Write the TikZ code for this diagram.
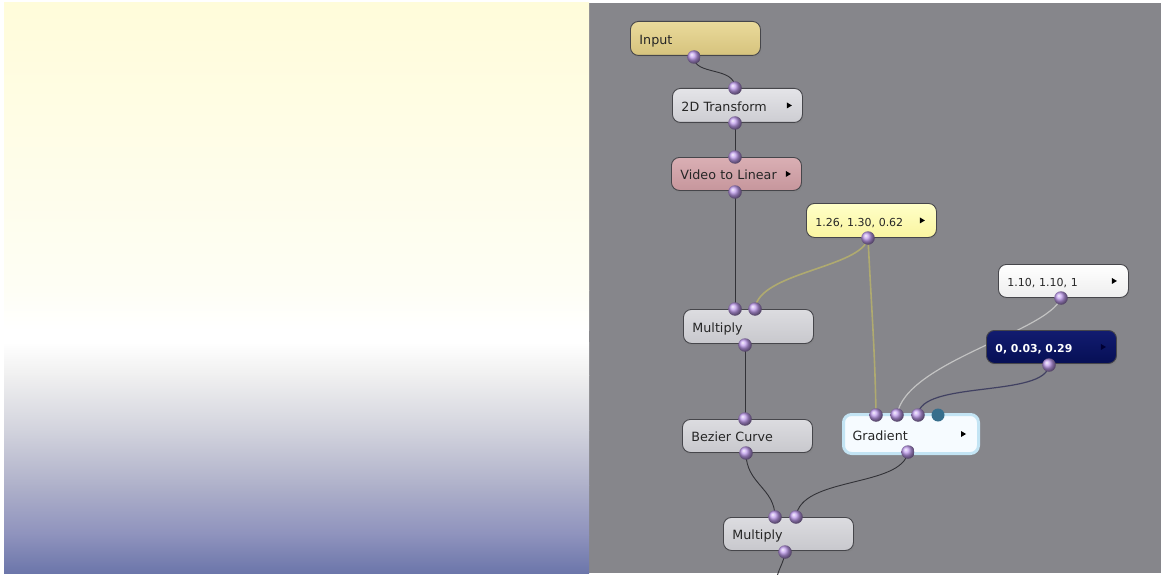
\documentclass[tikz,border=0pt]{standalone}
\usepackage{fontspec}
\newfontfamily\uifont{DejaVu Sans}
\usetikzlibrary{shadows,calc}
\pgfdeclarelayer{back}
\pgfdeclarelayer{wires}
\pgfsetlayers{back,wires,main}
\definecolor{panelgrey}{RGB}{134,134,139}
\definecolor{wire}{RGB}{50,50,55}
\definecolor{olive}{RGB}{175,170,112}
\definecolor{lightwire}{RGB}{195,195,195}
\definecolor{navywire}{RGB}{65,65,98}
\definecolor{boxborder}{RGB}{70,70,75}
\definecolor{portcol}{RGB}{190,155,235}
\definecolor{teal}{RGB}{55,110,140}
\definecolor{glow}{RGB}{195,228,244}
\tikzset{
  box/.style={draw=boxborder, line width=0.9pt, rounded corners=8pt, anchor=north west,
    minimum width=130pt, minimum height=34pt, text width=112pt, align=left,
    inner xsep=9pt, text height=13pt, text depth=1pt,
    font=\uifont\fontsize{12.7}{14}\selectfont, text=black!85,
    drop shadow={opacity=0.35, shadow xshift=1pt, shadow yshift=-2pt}},
  numbox/.style={box, font=\uifont\fontsize{11}{13}\selectfont},
  port/.style={circle, minimum size=13.5pt, inner sep=0pt, shading=ball, ball color=portcol},
  tealport/.style={circle, minimum size=13pt, inner sep=0pt, fill=teal},
  conn/.style={draw=wire, line width=0.9pt},
}
\newcommand{\tri}[2]{\fill[black] ($(#1.east)+(#2,-3)$) -- ++(0,6) -- ++(5,-3) -- cycle;}
\begin{document}
\begin{tikzpicture}[x=1pt,y=-1pt]
\useasboundingbox (0,0) rectangle (1164,575);
\begin{pgfonlayer}{back}
\fill[white] (0,0) rectangle (1164,575);
\fill[panelgrey] (589,3) rectangle (1161,573);
\shade[top color={rgb,255:red,255;green,252;blue,218}, bottom color={rgb,255:red,254;green,254;blue,245}] (4,3) rectangle (589,290.5);
\shade[top color={rgb,255:red,254;green,254;blue,245}, bottom color=white] (4,290) rectangle (589,330.5);
\fill[white] (4,330) rectangle (589,342.5);
\shade[top color=white, bottom color={rgb,255:red,240;green,240;blue,240}] (4,342) rectangle (589,375.5);
\shade[top color={rgb,255:red,240;green,240;blue,240}, bottom color={rgb,255:red,210;green,211;blue,221}] (4,375) rectangle (589,430.5);
\shade[top color={rgb,255:red,210;green,211;blue,221}, bottom color={rgb,255:red,175;green,177;blue,202}] (4,430) rectangle (589,485.5);
\shade[top color={rgb,255:red,175;green,177;blue,202}, bottom color={rgb,255:red,142;green,146;blue,189}] (4,485) rectangle (589,535.5);
\shade[top color={rgb,255:red,142;green,146;blue,189}, bottom color={rgb,255:red,108;green,118;blue,170}] (4,535) rectangle (589,573);
\end{pgfonlayer}

% nodes
\node[box, top color={rgb,255:red,234;green,218;blue,155}, bottom color={rgb,255:red,214;green,195;blue,125}] (input) at (630,21) {Input};
\node[box, top color={rgb,255:red,228;green,228;blue,232}, bottom color={rgb,255:red,205;green,205;blue,210}] (t2d) at (672,88) {2D Transform};
\node[box, minimum height=33pt, top color={rgb,255:red,218;green,175;blue,180}, bottom color={rgb,255:red,198;green,150;blue,156}] (vtl) at (671,157) {Video to Linear};
\node[numbox, minimum width=129pt, top color={rgb,255:red,255;green,255;blue,200}, bottom color={rgb,255:red,250;green,245;blue,160}] (c126) at (806,203) {1.26, 1.30, 0.62};
\node[box, minimum width=128pt, top color={rgb,255:red,220;green,220;blue,224}, bottom color={rgb,255:red,200;green,200;blue,205}] (mul1) at (683,309) {Multiply};
\node[numbox, minimum height=33pt, top color=white, bottom color={rgb,255:red,238;green,238;blue,238}] (c110) at (998,264) {1.10, 1.10, 1};
\node[numbox, minimum height=33pt, text=white, font=\uifont\bfseries\fontsize{10.9}{12}\selectfont, top color={rgb,255:red,18;green,28;blue,112}, bottom color={rgb,255:red,6;green,15;blue,85}] (c003) at (986,330) {0, 0.03, 0.29};
\node[box, draw=glow, line width=3pt, minimum width=135pt, minimum height=39pt, text width=117pt, fill={rgb,255:red,246;green,251;blue,255}] (grad) at (842,413) {Gradient};
\node[box, minimum height=33pt, top color={rgb,255:red,220;green,220;blue,224}, bottom color={rgb,255:red,200;green,200;blue,205}] (bez) at (682,419) {Bezier Curve};
\node[box, minimum width=129pt, minimum height=33pt, top color={rgb,255:red,220;green,220;blue,224}, bottom color={rgb,255:red,200;green,200;blue,205}] (mul2) at (723,517) {Multiply};

\tri{t2d}{-16}
\tri{vtl}{-16}
\tri{c126}{-17}
\tri{c110}{-17}
\fill[black!80!blue] ($(c003.east)+(-16,-3)$) -- ++(0,6) -- ++(5,-3) -- cycle;
\tri{grad}{-19}

% ports
\node[port] (pin) at (694,57) {};
\node[port] (t2din) at (735,88) {};
\node[port] (t2dout) at (735,123) {};
\node[port] (vtlin) at (735,157) {};
\node[port] (vtlout) at (735,192) {};
\node[port] (c126out) at (868,238) {};
\node[port] (m1a) at (735,309) {};
\node[port] (m1b) at (755,309) {};
\node[port] (m1out) at (745,345) {};
\node[port] (c110out) at (1061,298) {};
\node[port] (c003out) at (1049,365) {};
\node[port] (ga) at (876,415) {};
\node[port] (gb) at (897,415) {};
\node[port] (gc) at (918,415) {};
\node[tealport] (gd) at (938,415) {};
\node[port] (gout) at (908,452) {};
\node[port] (bin) at (745,419) {};
\node[port] (bout) at (746,453) {};
\node[port] (m2a) at (775,517) {};
\node[port] (m2b) at (796,517) {};
\node[port] (m2out) at (785,552) {};
\coordinate (tail) at (777,577);

\begin{pgfonlayer}{wires}
\draw[conn] (pin.center) .. controls (694,76) and (735,66) .. (t2din.center);
\draw[conn] (t2dout.center) -- (vtlin.center);
\draw[conn] (vtlout.center) -- (m1a.center);
\draw[draw=olive, line width=1.6pt] (c126out.center) .. controls (862,268) and (758,272) .. (m1b.center);
\draw[draw=olive, line width=1.6pt] (c126out.center) .. controls (871,300) and (875,350) .. (ga.center);
\draw[draw=lightwire, line width=1.2pt] (c110out.center) .. controls (1048,332) and (905,362) .. (gb.center);
\draw[draw=navywire, line width=1.2pt] (c003out.center) .. controls (1046,398) and (920,380) .. (gc.center);
\draw[conn] (m1out.center) -- (bin.center);
\draw[conn] (bout.center) .. controls (746,484) and (775,488) .. (m2a.center);
\draw[conn] (gout.center) .. controls (902,488) and (800,476) .. (m2b.center);
\draw[conn] (m2out.center) .. controls (784,562) and (779,568) .. (tail);
\end{pgfonlayer}
\end{tikzpicture}
\end{document}
